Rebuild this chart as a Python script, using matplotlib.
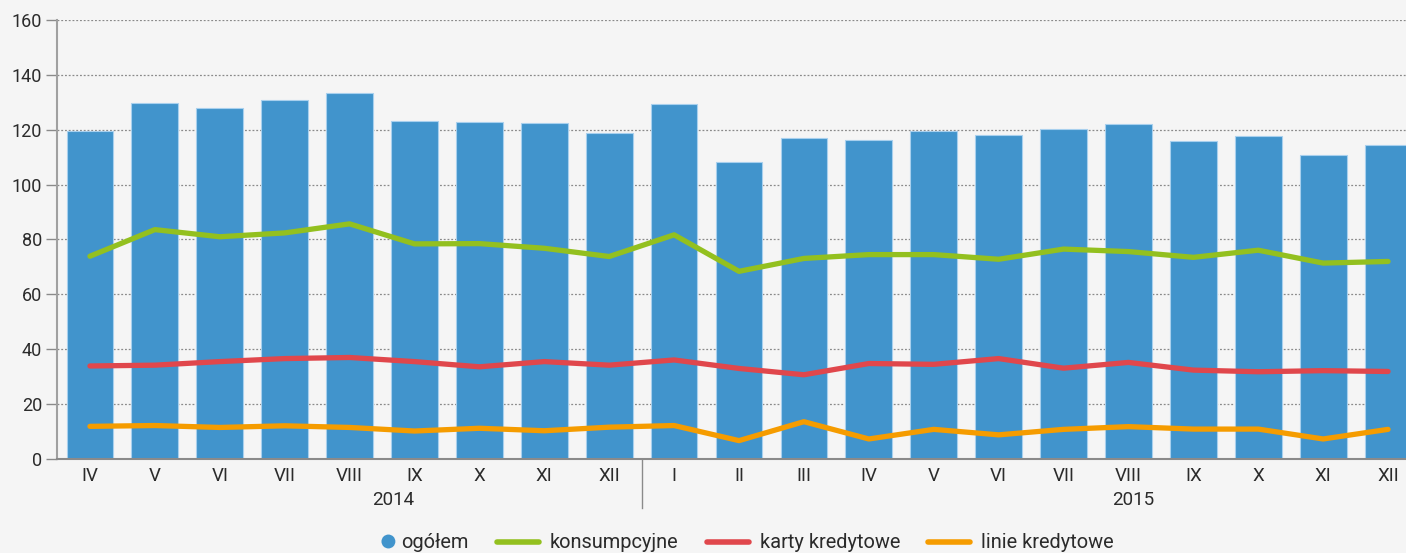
import matplotlib
matplotlib.use("Agg")
import matplotlib.pyplot as plt
import matplotlib.transforms as mtransforms
from matplotlib.lines import Line2D
from matplotlib.patches import Circle
from matplotlib.legend_handler import HandlerBase
import numpy as np

plt.rcParams['font.family'] = ['Roboto', 'DejaVu Sans']

months = ['IV', 'V', 'VI', 'VII', 'VIII', 'IX', 'X', 'XI', 'XII',
          'I', 'II', 'III', 'IV', 'V', 'VI', 'VII', 'VIII', 'IX', 'X', 'XI', 'XII']
years = ['2014', '2015']

ogolem = [119.5, 129.7, 127.9, 130.8, 133.4, 123.3, 122.9, 122.3, 118.9,
          129.4, 108.4, 117.1, 116.4, 119.6, 118.1, 120.1, 122.2, 116.0, 117.9, 110.8, 114.5]
konsumpcyjne = [73.9, 83.6, 81.0, 82.4, 85.7, 78.4, 78.5, 76.8, 73.8,
                81.7, 68.4, 73.1, 74.5, 74.5, 72.8, 76.5, 75.6, 73.5, 76.1, 71.4, 72.0]
karty = [33.9, 34.2, 35.5, 36.6, 37.0, 35.5, 33.6, 35.5, 34.2,
         36.1, 33.0, 30.7, 34.8, 34.5, 36.6, 33.1, 35.2, 32.4, 31.8, 32.2, 31.9]
linie = [11.9, 12.2, 11.5, 12.1, 11.5, 10.2, 11.2, 10.3, 11.6,
         12.2, 6.7, 13.6, 7.3, 10.8, 8.8, 10.8, 11.8, 10.9, 10.9, 7.3, 10.8]

bg = '#f5f5f5'
c_bar = '#4194cc'
c_green = '#93c01f'
c_red = '#e0474c'
c_orange = '#f59c00'
c_text = '#2b2b2b'


class DotHandler(HandlerBase):
    # dot sits at the right end of the handle box, close to its label
    def create_artists(self, legend, orig_handle, xdescent, ydescent, width, height, fontsize, trans):
        r = 5.0
        c = Circle((width - 1.5, height / 2 - ydescent), r, facecolor=c_bar, edgecolor='none', transform=trans)
        return [c]


fig = plt.figure(figsize=(14.06, 5.53), dpi=100, facecolor=bg)
ax = fig.add_axes([57.5 / 1406, 94 / 553, 1363 / 1406, 439 / 553])
ax.set_facecolor(bg)

x = np.arange(len(months))
ax.bar(x, ogolem, width=0.72, color=c_bar, edgecolor='#a8d0ee', linewidth=0.8, zorder=2)
ax.plot(x, konsumpcyjne, color=c_green, lw=3.8, solid_capstyle='round', solid_joinstyle='round', zorder=3)
ax.plot(x, karty, color=c_red, lw=3.8, solid_capstyle='round', solid_joinstyle='round', zorder=3)
ax.plot(x, linie, color=c_orange, lw=3.8, solid_capstyle='round', solid_joinstyle='round', zorder=3)

ax.set_xlim(-0.5, len(months) - 0.5)
ax.set_ylim(0, 160)
ax.set_yticks(range(0, 161, 20))
ax.set_xticks(x)
ax.set_xticklabels(months)
ax.yaxis.grid(True, linestyle=(0, (1.5, 1.5)), color='#8a8a8a', linewidth=0.9, zorder=1)
ax.set_axisbelow(True)

for s in ['top', 'right']:
    ax.spines[s].set_visible(False)
ax.spines['left'].set_color('#a0a0a0')
ax.spines['left'].set_linewidth(1.5)
ax.spines['bottom'].set_color('#8a8a8a')
ax.spines['bottom'].set_linewidth(1.5)
ax.tick_params(axis='y', length=8, width=1, color='#8a8a8a', labelsize=13, labelcolor=c_text, pad=3)
ax.tick_params(axis='x', length=0, labelsize=13.5, labelcolor=c_text, pad=6)

trans = mtransforms.blended_transform_factory(ax.transData, ax.transAxes)
ax.text(4.67, -0.093, years[0], transform=trans, ha='center', va='center', fontsize=13.5, color=c_text)
ax.text(16.07, -0.093, years[1], transform=trans, ha='center', va='center', fontsize=13.5, color=c_text)
ax.plot([8.5, 8.5], [0, -0.112], transform=trans, color='#8a8a8a', lw=1, clip_on=False)

dot = Circle((0, 0), 1)
handles = [
    dot,
    Line2D([], [], color=c_green, lw=4, solid_capstyle='round'),
    Line2D([], [], color=c_red, lw=4, solid_capstyle='round'),
    Line2D([], [], color=c_orange, lw=4, solid_capstyle='round'),
]
labels = ['ogółem', 'konsumpcyjne', 'karty kredytowe', 'linie kredytowe']
fig.legend(handles, labels, loc='center', bbox_to_anchor=(731 / 1406, 1 - 543 / 553),
           ncol=4, frameon=False, fontsize=14.4, handlelength=2.1, handletextpad=0.55,
           columnspacing=1.4, labelcolor=c_text, handler_map={dot: DotHandler()})

fig.savefig('out.png', dpi=100, facecolor=bg)
